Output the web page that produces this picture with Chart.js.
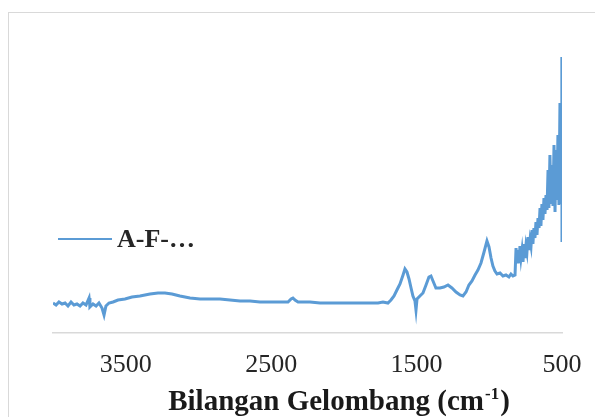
<!DOCTYPE html>
<html><head><meta charset="utf-8">
<script src="https://cdn.jsdelivr.net/npm/chart.js@4/dist/chart.umd.min.js"></script>
<style>
html,body{margin:0;padding:0;background:#fff;overflow:hidden}
#wrap{position:relative;width:595px;height:417px;overflow:hidden}
#frame{position:absolute;left:8px;top:12px;width:700px;height:600px;border:1px solid #d9d9d9;box-sizing:border-box}
canvas{position:absolute;left:0;top:0}
</style></head><body>
<div id="wrap"><div id="frame"></div><canvas id="c" width="595" height="417"></canvas></div>
<script>
const wavenumbers = [4000,3979,3959,3938,3917,3897,3876,3856,3835,3814,3794,3773,3752,3746,3725,3704,3684,3663,3649,3636,3615,3587,3553,3505,3457,3402,3333,3278,3230,3182,3127,3058,2989,2920,2852,2783,2714,2645,2577,2508,2439,2384,2363,2350,2336,2315,2233,2164,2095,2027,1958,1889,1820,1765,1731,1697,1676,1655,1635,1614,1593,1580,1566,1552,1538,1525,1511,1504,1497,1477,1456,1435,1415,1401,1387,1367,1339,1312,1284,1257,1229,1201,1181,1160,1140,1119,1098,1078,1057,1036,1016,1002,988,975,961,947,926,906,885,865,851,837,823,
  816,809,803,796,789,782,775,768,761,755,748,741,734,727,720,713,706,700,693,686,679,672,665,658,651,645,638,631,624,617,610,603,596,590,583,576,569,562,555,548,541,535,528,521,514,507,504,501,500];
const transmittance = [10.0,9.33,10.33,9.67,10.0,9.0,10.33,9.33,9.67,9.0,10.0,9.33,11.67,8.67,9.67,9.0,10.0,8.33,6.0,9.0,10.0,10.33,11.0,11.33,12.0,12.33,13.0,13.33,13.33,13.0,12.33,11.67,11.33,11.33,11.33,11.0,10.67,10.67,10.33,10.33,10.33,10.33,11.33,11.67,11.0,10.33,10.33,10.0,10.0,10.0,10.0,10.0,10.0,10.0,10.33,10.0,11.0,12.33,14.33,16.33,19.33,21.33,20.33,18.0,15.0,12.33,10.67,7.67,11.33,12.33,13.33,16.0,18.67,19.0,17.33,15.0,15.0,15.33,16.0,15.0,13.67,12.67,12.33,13.67,16.0,17.33,19.33,21.0,23.33,27.0,30.67,28.67,25.0,22.33,20.67,19.67,20.0,19.0,19.33,18.67,19.67,19.0,19.33,
  28.33,23.67,27.67,23.33,29.0,25.0,27.67,23.67,29.67,25.0,29.0,27.0,32.0,27.67,31.0,29.0,34.33,29.67,35.0,31.67,37.0,32.67,38.33,35.0,41.67,35.67,43.0,37.67,45.0,39.67,46.0,41.0,54.33,41.67,59.33,43.0,56.0,42.33,62.67,40.33,61.0,44.33,66.0,42.67,76.67,44.33,74.33,92.0,30.33];
const tickValues = [3500, 2500, 1500, 500];
const seriesLabel = 'A-F-…';
const axisTitleMain = 'Bilangan Gelombang (cm';
const axisTitleSup = '-1';
const axisTitleEnd = ')';

const lineColor = '#5B9BD5';

const overlay = {
  id: 'overlay',
  afterDraw(chart) {
    const ctx = chart.ctx, a = chart.chartArea;
    ctx.save();
    // legend
    const ly = a.top + 206;
    ctx.strokeStyle = lineColor; ctx.lineWidth = 2;
    ctx.beginPath(); ctx.moveTo(a.left + 5, ly); ctx.lineTo(a.left + 59, ly); ctx.stroke();
    ctx.fillStyle = '#262626';
    ctx.font = 'bold 26px "Liberation Serif"';
    ctx.textBaseline = 'alphabetic'; ctx.textAlign = 'left';
    ctx.fillText(chart.data.datasets[0].label, a.left + 64, ly + 8);
    // axis title
    const fMain = 'bold 29px "Liberation Serif"', fSup = 'bold 17px "Liberation Serif"';
    ctx.font = fMain; const w1 = ctx.measureText(axisTitleMain).width; const w3 = ctx.measureText(axisTitleEnd).width;
    ctx.font = fSup; const w2 = ctx.measureText(axisTitleSup).width;
    const total = w1 + w2 + w3 + 2;
    const cx = 339;
    let x = cx - total / 2; const by = a.bottom + 77;
    ctx.fillStyle = '#1a1a1a';
    ctx.font = fMain; ctx.fillText(axisTitleMain, x, by); x += w1 + 1;
    ctx.font = fSup; ctx.fillText(axisTitleSup, x, by - 11); x += w2 + 1;
    ctx.font = fMain; ctx.fillText(axisTitleEnd, x, by);
    ctx.restore();
  }
};

new Chart(document.getElementById('c'), {
  type: 'line',
  data: {
    datasets: [{
      label: seriesLabel,
      data: wavenumbers.map((w, i) => ({x: w, y: transmittance[i]})),
      borderColor: lineColor,
      borderWidth: 3,
      pointRadius: 0,
      tension: 0,
      fill: false
    }]
  },
  options: {
    responsive: false,
    animation: false,
    devicePixelRatio: 1,
    layout: {padding: {left: 53, right: 33, top: 33, bottom: 0}},
    plugins: {legend: {display: false}, tooltip: {enabled: false}},
    scales: {
      x: {
        type: 'linear', reverse: true, min: 500, max: 4000,
        grid: {display: false, drawTicks: false},
        border: {display: true, color: '#d9d9d9', width: 1.5},
        ticks: {font: {family: 'Liberation Serif', size: 26}, color: '#262626', padding: 17, maxRotation: 0, autoSkip: false,
                callback: v => String(v)},
        afterBuildTicks: s => { s.ticks = tickValues.map(v => ({value: v})); },
        afterFit: s => { s.height = 84; s.paddingLeft = 0; s.paddingRight = 0; }
      },
      y: {display: false, min: 0, max: 100}
    }
  },
  plugins: [overlay]
});
</script>
</body></html>
